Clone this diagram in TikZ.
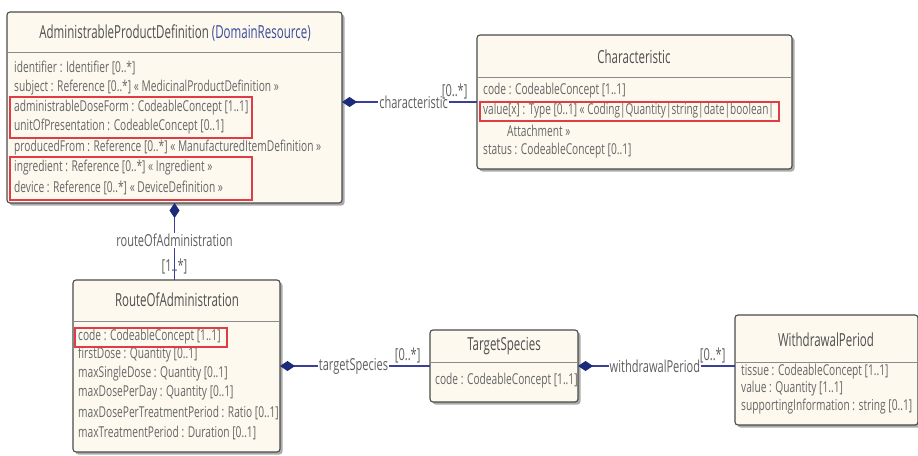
\documentclass[tikz,border=0pt]{standalone}
\usepackage{fontspec}
\usetikzlibrary{arrows.meta,shadows}
\newfontfamily\umlA{Open Sans}[FakeStretch=0.68]
\newfontfamily\umlT{Open Sans}[FakeStretch=0.64]
\newfontfamily\umlL{Open Sans}[FakeStretch=0.67]
\newcommand\fAttr{\umlA\fontsize{15}{17}\selectfont}
\newcommand\fTitle{\umlT\fontsize{18}{20}\selectfont}
\newcommand\fLbl{\umlL\fontsize{16.5}{19}\selectfont}
\definecolor{boxfill}{HTML}{FDF9EF}
\definecolor{boxborder}{HTML}{4A4A4A}
\definecolor{headcol}{HTML}{8A8A8A}
\definecolor{titlecol}{HTML}{4F4F4F}
\definecolor{attrcol}{HTML}{666666}
\definecolor{bluecol}{HTML}{3A4A9A}
\definecolor{linecol}{HTML}{3B3F98}
\definecolor{diamcol}{HTML}{1C2A7A}
\definecolor{redcol}{HTML}{E03C45}
\definecolor{lblcol}{HTML}{5E5E5E}
\tikzset{
  cls/.style={draw=boxborder, fill=boxfill, rounded corners=3pt, line width=1.1pt,
    drop shadow={shadow xshift=2.5pt, shadow yshift=-2.5pt, fill=black!60, opacity=0.55},
    anchor=north west, inner sep=0pt, outer sep=0pt},
  ttl/.style={font=\fTitle, text=titlecol, anchor=center, inner sep=0pt},
  attr/.style={font=\fAttr, text=attrcol, anchor=west, inner sep=0pt},
  hdr/.style={draw=headcol, line width=0.8pt},
  redbox/.style={draw=redcol, line width=1.2pt},
  assoc/.style={draw=linecol, line width=1.1pt,
    {Diamond[length=15pt,width=10pt,color=diamcol]}-},
  lbl/.style={font=\fLbl, text=lblcol, fill=white, inner sep=1pt},
  mult/.style={font=\fLbl, text=lblcol, inner sep=0pt}
}
\begin{document}
\begin{tikzpicture}[x=1pt,y=-1pt]
\fill[white] (0,0) rectangle (918,455);
\useasboundingbox (0,0) rectangle (918,455);

% AdministrableProductDefinition
\node[cls, minimum width=335pt, minimum height=191pt] (apd) at (7,12) {};
\draw[hdr] (7,52) -- (342,52);
\node[ttl] (apdT) at (175,33) {AdministrableProductDefinition \textcolor{bluecol}{(DomainResource)}};
\node[attr] (apd1) at (14,68) {identifier : Identifier [0..*]};
\node[attr] (apd2) at (14,88) {subject : Reference [0..*] « MedicinalProductDefinition »};
\node[attr] (apd3) at (14,108) {administrableDoseForm : CodeableConcept [1..1]};
\node[attr] (apd4) at (14,127) {unitOfPresentation : CodeableConcept [0..1]};
\node[attr] (apd5) at (14,148) {producedFrom : Reference [0..*] « ManufacturedItemDefinition »};
\node[attr] (apd6) at (14,168) {ingredient : Reference [0..*] « Ingredient »};
\node[attr] (apd7) at (14,188) {device : Reference [0..*] « DeviceDefinition »};
\draw[redbox] (10,97) rectangle (252,138);
\draw[redbox] (10,157) rectangle (252,200);

% Characteristic
\node[cls, minimum width=315pt, minimum height=134pt] (chr) at (477,35) {};
\draw[hdr] (477,77) -- (792,77);
\node[ttl] (chrT) at (634,57) {Characteristic};
\node[attr] (chr1) at (483,91) {code : CodeableConcept [1..1]};
\node[attr, xscale=0.985] (chr2) at (483,111) {value[x] : Type [0..1] « Coding|Quantity|string|date|boolean|};
\node[attr] (chr3) at (507,131) {Attachment »};
\node[attr] (chr4) at (483,151) {status : CodeableConcept [0..1]};
\draw[redbox] (480,102) rectangle (779,121);

% RouteOfAdministration
\node[cls, minimum width=207pt, minimum height=172pt] (roa) at (73,280) {};
\draw[hdr] (73,321) -- (280,321);
\node[ttl] (roaT) at (177,300) {RouteOfAdministration};
\node[attr] (roa1) at (78,337) {code : CodeableConcept [1..1]};
\node[attr] (roa2) at (78,355) {firstDose : Quantity [0..1]};
\node[attr] (roa3) at (78,374) {maxSingleDose : Quantity [0..1]};
\node[attr] (roa4) at (78,393) {maxDosePerDay : Quantity [0..1]};
\node[attr] (roa5) at (78,413) {maxDosePerTreatmentPeriod : Ratio [0..1]};
\node[attr] (roa6) at (78,433) {maxTreatmentPeriod : Duration [0..1]};
\draw[redbox] (75,328) rectangle (227,347);

% TargetSpecies
\node[cls, minimum width=148pt, minimum height=72pt] (ts) at (430,330) {};
\draw[hdr] (430,362) -- (578,362);
\node[ttl] (tsT) at (504,346) {TargetSpecies};
\node[attr] (ts1) at (435,381) {code : CodeableConcept [1..1]};

% WithdrawalPeriod
\node[cls, minimum width=183pt, minimum height=110pt] (wp) at (735,315) {};
\draw[hdr] (735,362) -- (918,362);
\node[ttl] (wpT) at (826,340) {WithdrawalPeriod};
\node[attr] (wp1) at (741,372) {tissue : CodeableConcept [1..1]};
\node[attr] (wp2) at (741,389) {value : Quantity [1..1]};
\node[attr] (wp3) at (741,407) {supportingInformation : string [0..1]};

% Connectors
\draw[assoc] (apd.east |- chr.west) -- node[lbl, pos=0.53] {characteristic}
  node[mult, pos=1, anchor=south east, xshift=-9pt, yshift=2pt] {[0..*]} (chr.west);
\draw[assoc] (apd.south) -- node[lbl, pos=0.49] {routeOfAdministration}
  node[mult, pos=0.82] {[1..*]} (apd.south |- roa.north);
\draw[assoc] (roa.east) -- node[lbl, pos=0.49] {targetSpecies}
  node[mult, pos=1, anchor=south east, xshift=-9pt, yshift=2pt] {[0..*]} (ts.west);
\draw[assoc] (ts.east) -- node[lbl, pos=0.49] {withdrawalPeriod}
  node[mult, pos=1, anchor=south east, xshift=-9pt, yshift=2pt] {[0..*]} (ts.east -| wp.west);
\end{tikzpicture}
\end{document}
